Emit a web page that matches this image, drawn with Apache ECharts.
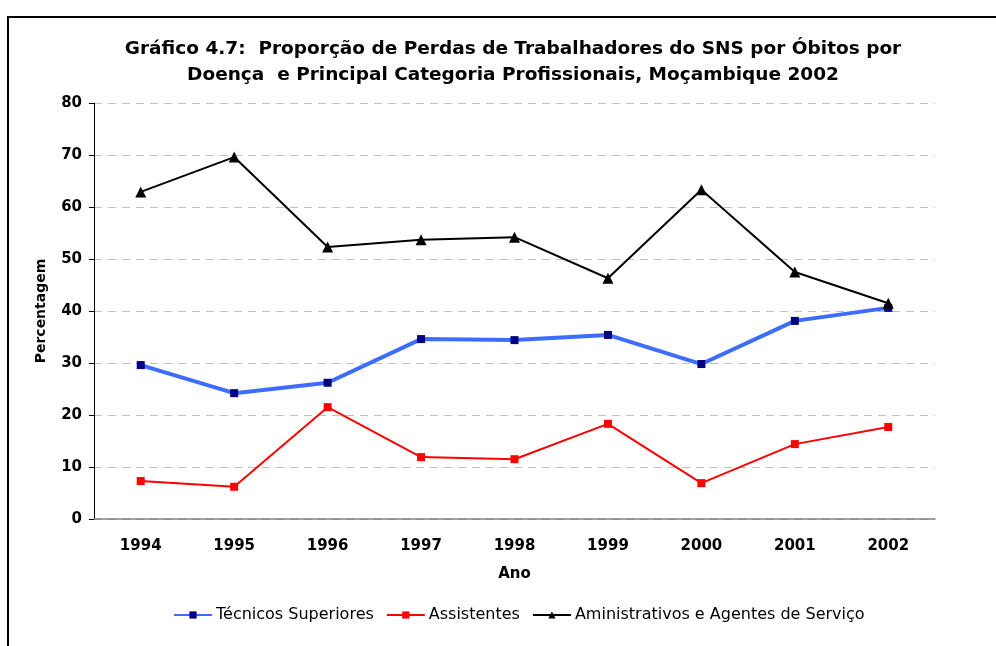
<!DOCTYPE html>
<html>
<head>
<meta charset="utf-8">
<script src="https://cdn.jsdelivr.net/npm/echarts@6/dist/echarts.min.js"></script>
<style>
html, body { margin: 0; padding: 0; background: #fff; }
#main { width: 996px; height: 646px; }
</style>
</head>
<body>
<div id="main"></div>
<script>
// anos
var anos = ['1994', '1995', '1996', '1997', '1998', '1999', '2000', '2001', '2002'];
// percentagens por categoria
var tecnicos = [29.6, 24.2, 26.2, 34.6, 34.4, 35.4, 29.8, 38.1, 40.6];
var assistentes = [7.3, 6.2, 21.5, 11.9, 11.5, 18.3, 6.9, 14.4, 17.7];
var administrativos = [62.9, 69.6, 52.3, 53.7, 54.2, 46.3, 63.3, 47.5, 41.5];
var nomes = ['Técnicos Superiores', 'Assistentes', 'Aministrativos e Agentes de Serviço'];

var chart = echarts.init(document.getElementById('main'));
var font = '"DejaVu Sans", Arial, sans-serif';

var option = {
    backgroundColor: '#fff',
    animation: false,
    title: {
        text: 'Gráfico 4.7:  Proporção de Perdas de Trabalhadores do SNS por Óbitos por\nDoença  e Principal Categoria Profissionais, Moçambique 2002',
        left: 508,
        textAlign: 'center',
        top: 31,
        textStyle: {
            fontFamily: font,
            fontSize: 18.5,
            fontWeight: 'bold',
            color: '#000',
            lineHeight: 26
        }
    },
    graphic: [
        { type: 'line', shape: { x1: 7, y1: 17, x2: 996, y2: 17 }, style: { stroke: '#000', lineWidth: 2 } },
        { type: 'line', shape: { x1: 8, y1: 17, x2: 8, y2: 646 }, style: { stroke: '#000', lineWidth: 2 } }
    ],
    legend: {
        data: nomes,
        bottom: 18,
        left: 168,
        itemWidth: 38,
        itemHeight: 9,
        itemGap: 12,
        textStyle: { fontFamily: font, fontSize: 16, color: '#000', padding: [0, 0, 0, -1] }
    },
    grid: { left: 94, right: 61, top: 103, bottom: 127 },
    xAxis: {
        type: 'category',
        data: anos,
        name: 'Ano',
        nameLocation: 'middle',
        nameGap: 48,
        nameTextStyle: { fontFamily: font, fontSize: 15, fontWeight: 'bold', color: '#000' },
        axisLine: { lineStyle: { color: '#808080', width: 1.5 } },
        axisTick: { length: 5, lineStyle: { color: '#404040' } },
        axisLabel: { fontFamily: font, fontSize: 15, fontWeight: 'bold', color: '#000', margin: 20 },
        splitLine: { show: false }
    },
    yAxis: {
        type: 'value',
        min: 0,
        max: 80,
        interval: 10,
        name: 'Percentagem',
        nameLocation: 'middle',
        nameGap: 46,
        nameTextStyle: { fontFamily: font, fontSize: 14, fontWeight: 'bold', color: '#000' },
        axisLine: { show: true, lineStyle: { color: '#000', width: 1 } },
        axisTick: { show: true, length: 5, lineStyle: { color: '#000' } },
        axisLabel: { fontFamily: font, fontSize: 15, fontWeight: 'bold', color: '#000', margin: 12 },
        splitLine: { show: true, lineStyle: { color: '#c0c0c0', type: [8, 6], width: 1 } }
    },
    series: [
        {
            name: nomes[0],
            type: 'line',
            data: tecnicos,
            symbol: 'rect',
            symbolSize: 8,
            lineStyle: { color: '#3d6dff', width: 4 },
            itemStyle: { color: '#000080', borderWidth: 0 },
            z: 3
        },
        {
            name: nomes[1],
            type: 'line',
            data: assistentes,
            symbol: 'rect',
            symbolSize: 8,
            lineStyle: { color: '#ff0000', width: 2 },
            itemStyle: { color: '#ff0000', borderWidth: 0 }
        },
        {
            name: nomes[2],
            type: 'line',
            data: administrativos,
            symbol: 'triangle',
            symbolSize: 11,
            lineStyle: { color: '#000', width: 2 },
            itemStyle: { color: '#000', borderWidth: 0 }
        }
    ]
};

chart.setOption(option);
</script>
</body>
</html>
